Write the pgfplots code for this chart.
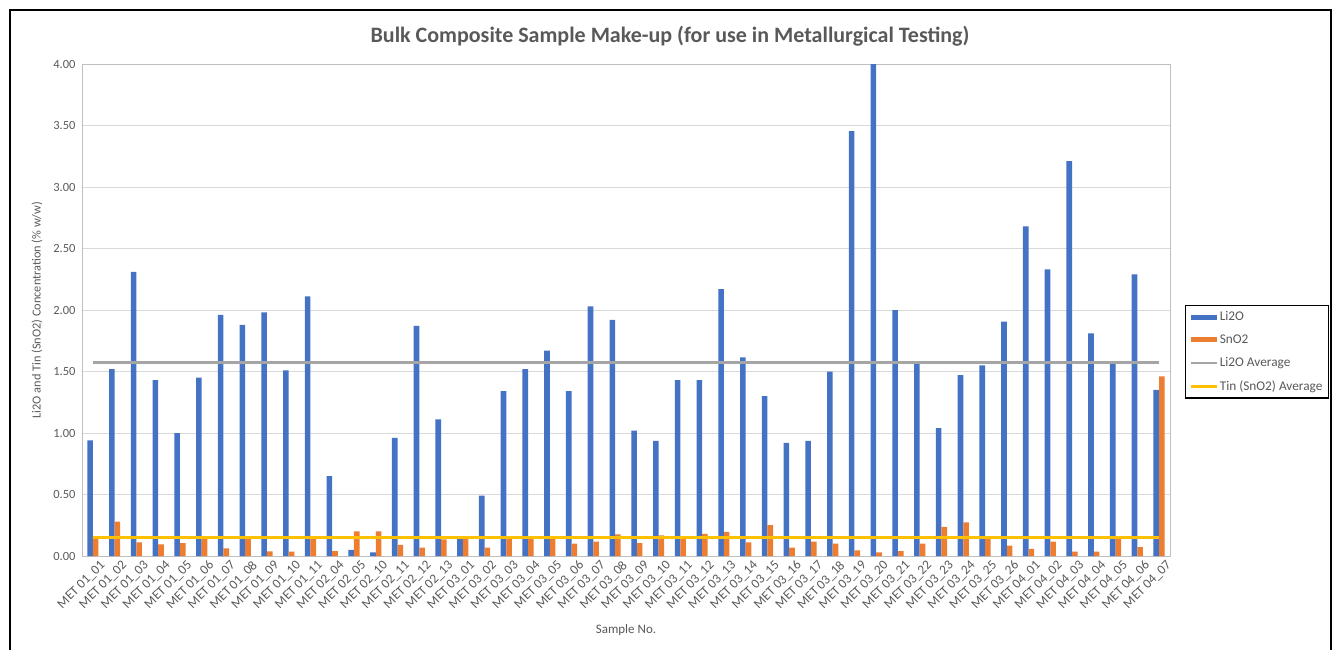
\documentclass[border=0pt]{standalone}
\usepackage{pgfplots}
\pgfplotsset{compat=1.18}
\usepackage{pgfplotstable}
\usepackage{fontspec}
\setmainfont{Carlito}
\definecolor{li2o}{HTML}{4472C4}
\definecolor{sno2}{HTML}{ED7D31}
\definecolor{avggray}{HTML}{A5A5A5}
\definecolor{avgyel}{HTML}{FFC000}
\definecolor{txt}{HTML}{595959}
\definecolor{gridc}{HTML}{D9D9D9}
\definecolor{axl}{HTML}{BFBFBF}

\pgfplotstableread{
x li sn
0 0.94 0.15
1 1.52 0.28
2 2.31 0.11
3 1.43 0.095
4 1.00 0.105
5 1.45 0.14
6 1.96 0.063
7 1.88 0.14
8 1.98 0.038
9 1.51 0.035
10 2.11 0.145
11 0.65 0.04
12 0.05 0.20
13 0.03 0.20
14 0.96 0.09
15 1.87 0.068
16 1.11 0.135
17 0.14 0.14
18 0.49 0.068
19 1.34 0.145
20 1.52 0.145
21 1.67 0.145
22 1.34 0.10
23 2.03 0.117
24 1.92 0.176
25 1.02 0.105
26 0.935 0.168
27 1.43 0.145
28 1.43 0.18
29 2.17 0.197
30 1.615 0.11
31 1.30 0.252
32 0.92 0.068
33 0.935 0.117
34 1.50 0.10
35 3.455 0.046
36 4.00 0.03
37 2.00 0.04
38 1.57 0.10
39 1.04 0.236
40 1.47 0.274
41 1.55 0.144
42 1.905 0.084
43 2.68 0.057
44 2.33 0.117
45 3.21 0.035
46 1.81 0.035
47 1.57 0.145
48 2.29 0.073
49 1.35 1.46
}\data

\begin{document}
\begin{tikzpicture}[x=1pt,y=1pt]
\useasboundingbox (0,0) rectangle (1336,649);
\draw[black, line width=1.5pt] (10,-10) -- (10,639) -- (1331,639) -- (1331,-10);
\node[text=txt, font=\fontsize{22}{26}\selectfont\bfseries] at (670,613) {Bulk Composite Sample Make-up (for use in Metallurgical Testing)};
\begin{axis}[
  at={(82pt,93pt)}, anchor=south west,
  scale only axis, width=1088pt, height=492pt,
  xmin=-0.5, xmax=49.5, ymin=0, ymax=4,
  ytick={0,0.5,...,4},
  xtick={0,...,49},
  xticklabels={MET 01\_01,MET 01\_02,MET 01\_03,MET 01\_04,MET 01\_05,MET 01\_06,MET 01\_07,MET 01\_08,MET 01\_09,MET 01\_10,MET 01\_11,MET 02\_04,MET 02\_05,MET 02\_10,MET 02\_11,MET 02\_12,MET 02\_13,MET 03\_01,MET 03\_02,MET 03\_03,MET 03\_04,MET 03\_05,MET 03\_06,MET 03\_07,MET 03\_08,MET 03\_09,MET 03\_10,MET 03\_11,MET 03\_12,MET 03\_13,MET 03\_14,MET 03\_15,MET 03\_16,MET 03\_17,MET 03\_18,MET 03\_19,MET 03\_20,MET 03\_21,MET 03\_22,MET 03\_23,MET 03\_24,MET 03\_25,MET 03\_26,MET 04\_01,MET 04\_02,MET 04\_03,MET 04\_04,MET 04\_05,MET 04\_06,MET 04\_07},
  major tick length=0pt,
  ymajorgrids, xmajorgrids=false,
  major grid style={draw=gridc, line width=0.8pt},
  axis line style={draw=axl, line width=0.8pt},
  /pgf/number format/assume math mode=true,
  yticklabel style={/pgf/number format/fixed, /pgf/number format/fixed zerofill, /pgf/number format/precision=2, text=txt, font=\fontsize{12.5}{14}\selectfont, xshift=-3pt},
  xticklabel style={rotate=45, anchor=north east, text=txt, font=\fontsize{13.3}{15}\selectfont, inner sep=1pt, yshift=-6pt, xshift=3pt},
  ylabel={Li2O and Tin (SnO2) Concentration (\% w/w)},
  ylabel style={at={(axis description cs:-0.0414,0.5)}, anchor=center, text=txt, font=\fontsize{12.3}{14}\selectfont},
  xlabel={Sample No.},
  xlabel style={at={(axis description cs:0.5,0)}, yshift=-74pt, anchor=center, text=txt, font=\fontsize{13}{15}\selectfont},
  legend style={at={(axis description cs:1.0135,0.510)}, anchor=north west, draw=black, line width=1.3pt, font=\fontsize{13.3}{15}\selectfont, text=txt, inner xsep=4pt, inner ysep=4pt, row sep=8.5pt},
  legend cell align=left,
  clip=false,
]
\addplot[ybar, bar width=5.6pt, bar shift=-2.8pt, fill=li2o, draw=none,
  legend image code/.code={\fill[li2o] (0pt,-2.5pt) rectangle (26pt,2.5pt);}] table[x=x,y=li]{\data};
\addlegendentry{Li2O}
\addplot[ybar, bar width=5.6pt, bar shift=2.8pt, fill=sno2, draw=none,
  legend image code/.code={\fill[sno2] (0pt,-2.5pt) rectangle (26pt,2.5pt);}] table[x=x,y=sn]{\data};
\addlegendentry{SnO2}
\addplot[avggray, line width=3pt, no marks, sharp plot,
  legend image code/.code={\draw[avggray, line width=2.5pt] (0pt,0pt) -- (26pt,0pt);}] coordinates {(0,1.577) (49,1.577)};
\addlegendentry{Li2O Average}
\addplot[avgyel, line width=2.8pt, no marks, sharp plot,
  legend image code/.code={\draw[avgyel, line width=2.5pt] (0pt,0pt) -- (26pt,0pt);}] coordinates {(0,0.152) (49,0.152)};
\addlegendentry{Tin (SnO2) Average}
\end{axis}
\end{tikzpicture}
\end{document}
